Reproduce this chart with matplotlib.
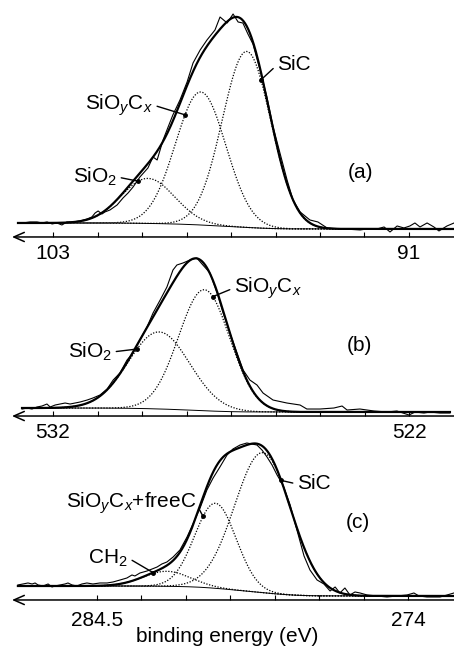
import numpy as np
import matplotlib
matplotlib.use('Agg')
import matplotlib.pyplot as plt

plt.rcParams['font.family'] = ['Liberation Sans', 'DejaVu Sans']
plt.rcParams['mathtext.fontset'] = 'custom'
plt.rcParams['mathtext.rm'] = 'Liberation Sans'
plt.rcParams['mathtext.it'] = 'Liberation Sans:italic'
plt.rcParams['font.size'] = 15

# (a) Si 2p
a_energy = [104.18, 104.01, 103.78, 103.54, 103.37, 103.20, 103.03, 102.87, 102.70, 102.53,
            102.36, 102.09, 101.85, 101.69, 101.58, 101.48, 101.35, 101.25, 101.08, 100.84,
            100.64, 100.47, 100.30, 100.07, 99.80, 99.63, 99.49, 99.29, 99.12, 98.96,
            98.72, 98.48, 98.28, 98.04, 97.81, 97.54, 97.37, 97.13, 96.93, 96.76,
            96.60, 96.43, 96.26, 96.02, 95.79, 95.58, 95.35, 95.11, 94.91, 94.67,
            94.34, 94.07, 93.76, 93.19, 92.65, 92.42, 92.08, 91.84, 91.64, 91.40,
            91.17, 90.97, 90.80, 90.63, 90.39, 90.16, 89.99, 89.72, 89.48]
a_counts = [14, 14, 15, 15, 14, 15, 13, 14, 12, 15,
            15, 16, 18, 20, 24, 26, 23, 25, 27, 32,
            39, 44, 50, 60, 69, 80, 77, 97, 110, 122,
            137, 155, 174, 187, 197, 207, 220, 214, 223, 215,
            214, 203, 193, 167, 140, 110, 84, 57, 37, 25,
            17, 15, 9, 8, 7, 8, 8, 10, 5, 11,
            9, 11, 14, 10, 14, 10, 6, 11, 14]
a_centers = [99.80, 98.02, 96.47]
a_heights = [45, 133, 176]
a_sigmas = [0.90, 0.85, 0.82]
a_bg = [14, 8]

# (b) O 1s
b_energy = [532.87, 532.73, 532.59, 532.45, 532.31, 532.17, 532.08, 531.94, 531.80, 531.66,
            531.52, 531.38, 531.24, 531.04, 530.88, 530.68, 530.48, 530.31, 530.12, 529.92,
            529.75, 529.56, 529.36, 529.19, 528.99, 528.80, 528.63, 528.52, 528.35, 528.15,
            527.96, 527.79, 527.59, 527.39, 527.22, 527.03, 526.83, 526.66, 526.47, 526.27,
            526.10, 525.82, 525.43, 525.06, 524.87, 524.50, 524.11, 523.88, 523.74, 523.38,
            522.98, 522.62, 522.34, 522.00, 521.83, 521.58, 521.41, 521.13, 520.85]
b_counts = [7, 8, 7, 9, 10, 12, 9, 11, 12, 13,
            12, 13, 14, 16, 18, 21, 27, 36, 43, 56,
            63, 76, 89, 103, 116, 129, 146, 151, 153, 156,
            158, 151, 143, 123, 103, 83, 63, 46, 36, 31,
            23, 16, 13, 11, 7, 7, 8, 10, 6, 7,
            5, 4, 5, 1, 4, 3, 4, 3, 3]
b_centers = [529.02, 527.75]
b_heights = [77, 121]
b_sigmas = [0.86, 0.72]
b_bg = [8, 4]

# (c) C 1s
c_energy = [287.17, 287.00, 286.83, 286.69, 286.59, 286.49, 286.32, 286.15, 286.02, 285.92,
            285.75, 285.58, 285.48, 285.34, 285.18, 285.01, 284.84, 284.64, 284.40, 284.16,
            283.96, 283.72, 283.49, 283.32, 283.22, 283.05, 282.81, 282.64, 282.47, 282.31,
            282.14, 281.93, 281.70, 281.46, 281.26, 281.02, 280.79, 280.58, 280.35, 280.11,
            279.91, 279.67, 279.44, 279.27, 279.10, 278.93, 278.76, 278.59, 278.42, 278.22,
            277.98, 277.75, 277.51, 277.31, 277.07, 276.84, 276.63, 276.46, 276.30, 276.13,
            275.96, 275.79, 275.62, 275.38, 275.05, 274.71, 274.37, 274.03, 273.80, 273.63,
            273.36, 273.12, 272.92, 272.68, 272.45]
c_counts = [15, 16, 17, 16, 17, 15, 14, 16, 13, 14,
            15, 16, 17, 15, 14, 16, 17, 16, 17, 17,
            18, 20, 22, 25, 24, 27, 29, 31, 33, 36,
            38, 43, 50, 63, 76, 92, 110, 122, 133, 145,
            151, 155, 157, 156, 155, 150, 143, 135, 125, 115,
            95, 70, 44, 30, 20, 16, 9, 13, 7, 12,
            5, 8, 7, 5, 4, 3, 4, 5, 7, 4,
            3, 3, 3, 5, 7]
c_centers = [282.14, 280.50, 278.90]
c_heights = [15, 85, 140]
c_sigmas = [0.80, 0.70, 0.95]
c_bg = [14, 4]


def fit_curves(energy, centers, heights, sigmas, bg_ends):
    e = np.linspace(min(energy), max(energy), 800)
    comps = [h * np.exp(-(e - c) ** 2 / (2 * s ** 2)) for c, h, s in zip(centers, heights, sigmas)]
    total = np.sum(comps, axis=0)
    # Shirley-type step background
    cum = np.cumsum(total)
    bg = bg_ends[1] + (bg_ends[0] - bg_ends[1]) * cum / cum[-1]
    return e, bg, comps


def draw_panel(ax, energy, counts, centers, heights, sigmas, bg_ends, xlim, ylim, ticks, pad):
    e, bg, comps = fit_curves(energy, centers, heights, sigmas, bg_ends)
    ax.patch.set_visible(False)
    ax.plot(energy, counts, color='k', lw=0.8)
    ax.plot(e, bg + np.sum(comps, axis=0), color='k', lw=1.6)
    ax.plot(e, bg, color='k', lw=0.7)
    for comp in comps:
        ax.plot(e, bg + comp, color='k', lw=0.9, ls=(0, (1, 1.3)))
    ax.set_xlim(xlim)
    ax.set_ylim(ylim)
    ax.set_xticks(ticks)
    labels = [''] * len(ticks)
    labels[0] = f'{ticks[0]:g}'
    labels[-1] = f'{ticks[-1]:g}'
    ax.set_xticklabels(labels)
    ax.tick_params(axis='x', direction='in', length=3.5, width=0.8, pad=pad, labelsize=15)
    ax.set_yticks([])
    for s in ax.spines.values():
        s.set_visible(False)
    ax.annotate('', xy=(12 / 454, 0), xytext=(1, 0), xycoords='axes fraction',
                arrowprops=dict(arrowstyle='->,head_length=0.5,head_width=0.22', lw=1.1, color='k',
                                shrinkA=0, shrinkB=0))
    return e, bg, comps


def comp_at(e, bg, comp, x):
    return np.interp(x, e, bg + comp)


def label(ax, text, xy, xytext, side):
    ha = 'left' if side == 'left' else 'right'
    rel = (0, 0.5) if side == 'left' else (1, 0.5)
    ax.annotate(text, xy=xy, xytext=xytext, ha=ha, va='center', fontsize=15,
                arrowprops=dict(arrowstyle='-', lw=1.0, color='k', relpos=rel,
                                shrinkA=1, shrinkB=0))
    ax.plot(*xy, 'o', color='k', ms=2.5)


fig = plt.figure(figsize=(4.54, 6.48), dpi=100)
ax_a = fig.add_axes([0, 0.6343, 1, 0.3657])
ax_b = fig.add_axes([0, 0.358, 1, 0.2562])
ax_c = fig.add_axes([0, 0.0741, 1, 0.2546])

ea, bga, ca = draw_panel(ax_a, a_energy, a_counts, a_centers, a_heights, a_sigmas, a_bg,
                         (104.787, 89.483), (0, 237), np.arange(103, 90.9, -1.5), 5)
label(ax_a, 'SiC', (95.99, comp_at(ea, bga, ca[2], 95.99)), (95.45, 172), 'left')
label(ax_a, 'SiO$_y$C$_x$', (98.55, comp_at(ea, bga, ca[1], 98.55)), (99.63, 132), 'right')
label(ax_a, 'SiO$_2$', (100.13, comp_at(ea, bga, ca[0], 100.13)), (100.84, 60), 'right')
ax_a.text(92.65, 64, '(a)', ha='center', va='center', fontsize=15)

eb, bgb, cb = draw_panel(ax_b, b_energy, b_counts, b_centers, b_heights, b_sigmas, b_bg,
                         (533.489, 520.736), (0, 166), np.arange(532, 521.9, -1.25), 5)
label(ax_b, 'SiO$_y$C$_x$', (527.51, comp_at(eb, bgb, cb[1], 527.51)), (526.92, 128), 'left')
label(ax_b, 'SiO$_2$', (529.64, comp_at(eb, bgb, cb[0], 529.64)), (530.34, 64), 'right')
ax_b.text(523.4, 71, '(b)', ha='center', va='center', fontsize=15)

ec, bgc, cc = draw_panel(ax_c, c_energy, c_counts, c_centers, c_heights, c_sigmas, c_bg,
                         (287.775, 272.447), (0, 165), np.arange(284.5, 273.9, -1.5), 8)
label(ax_c, 'SiC', (278.29, comp_at(ec, bgc, cc[2], 278.29)), (277.75, 116), 'left')
label(ax_c, 'SiO$_y$C$_x$+freeC', (280.92, comp_at(ec, bgc, cc[1], 280.92)), (281.16, 97), 'right')
env_c = bgc + np.sum(cc, axis=0)
label(ax_c, 'CH$_2$', (282.61, np.interp(282.61, ec, env_c)), (283.45, 42), 'right')
ax_c.text(275.69, 77, '(c)', ha='center', va='center', fontsize=15)

fig.text(227 / 454, 1 - 637 / 648, 'binding energy (eV)', ha='center', va='center', fontsize=15)

fig.savefig('out.png', dpi=100)
